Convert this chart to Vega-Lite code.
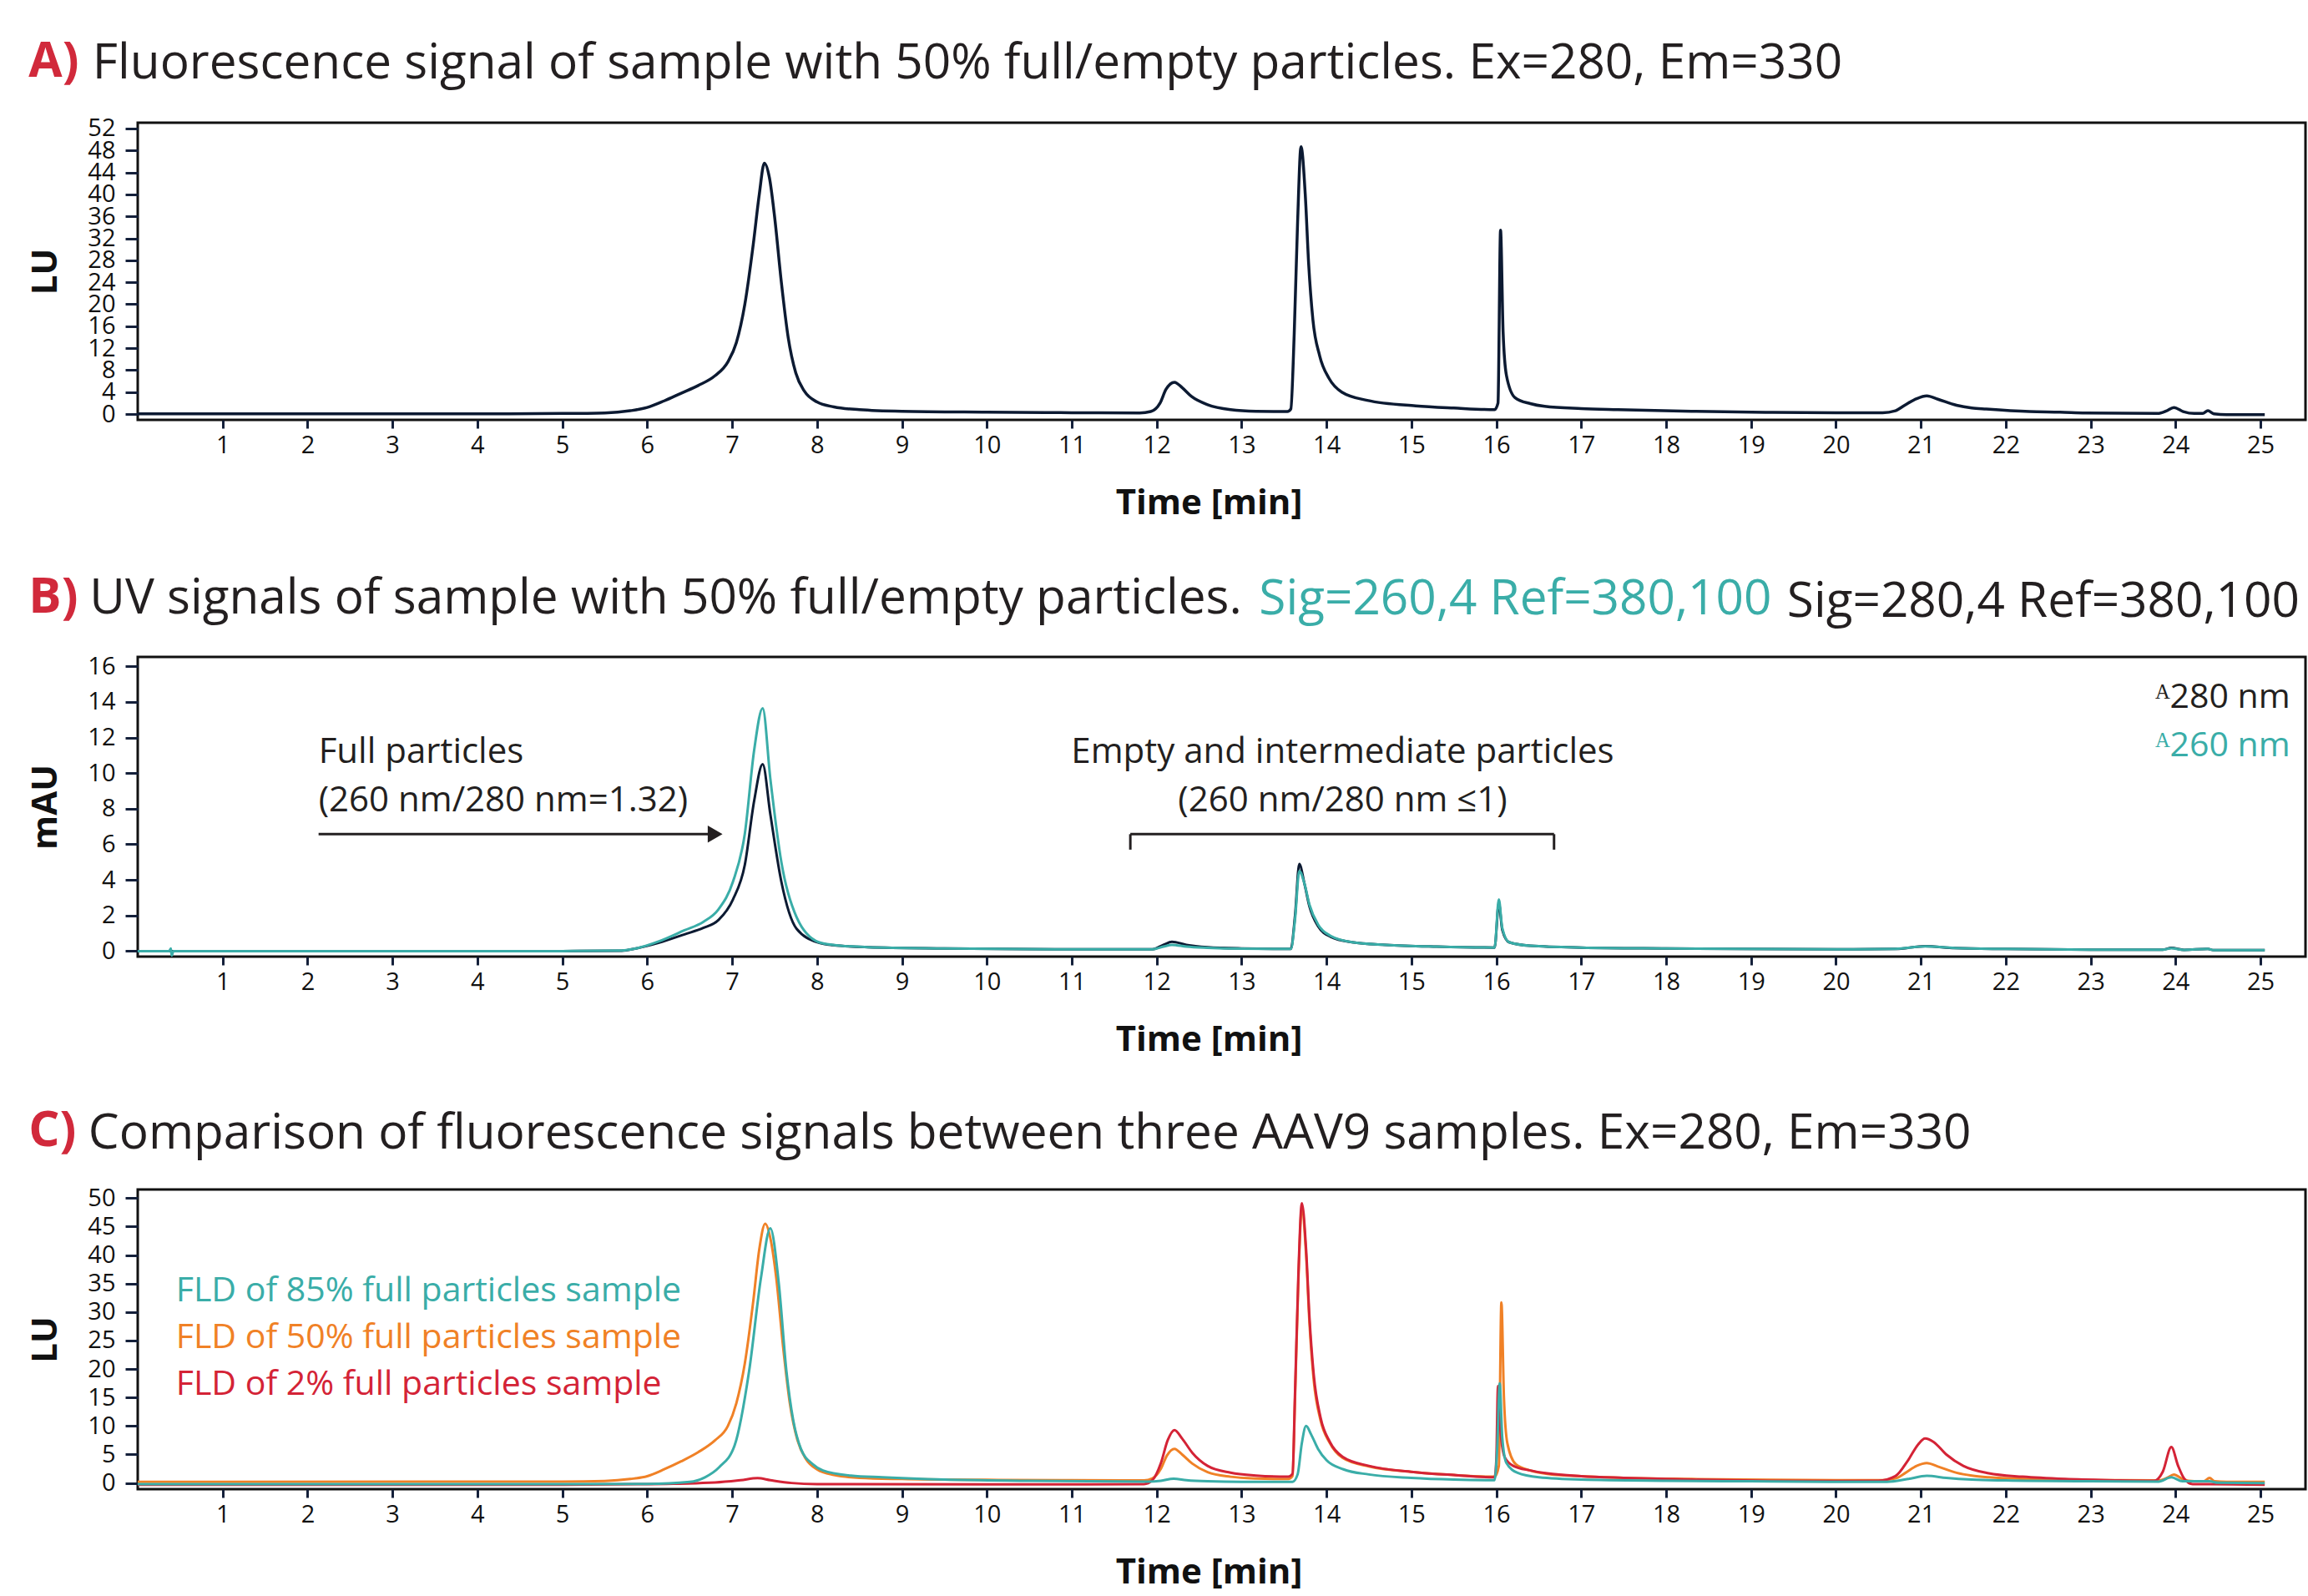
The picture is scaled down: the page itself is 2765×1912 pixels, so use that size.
{
  "$schema": "https://vega.github.io/schema/vega-lite/v6.json",
  "background": "white",
  "padding": {"left": 32, "top": 44, "right": 0, "bottom": 0},
  "spacing": 62,
  "config": {
    "font": "Open Sans",
    "view": {"stroke": "#111111", "strokeWidth": 3},
    "axis": {"grid": false, "domain": false, "tickColor": "#14203a", "tickWidth": 3, "labelColor": "#111111", "labelFontSize": 29, "titleFontSize": 42, "titleFontWeight": "bold", "titleColor": "#111111", "labelFlush": false, "labelOverlap": false},
    "axisX": {"tickSize": 10, "labelPadding": 6, "titlePadding": 34, "titleX": 1283},
    "axisY": {"tickSize": 15, "labelPadding": 12, "titlePadding": 28},
    "title": {"font": "Open Sans", "fontSize": 58.5, "fontWeight": "normal", "color": "#231f20", "anchor": "start", "frame": "bounds"}
  },
  "datasets": {
    "A": [
      {"t":0,"v":0.05},{"t":2,"v":0.05},{"t":4,"v":0.05},{"t":5,"v":0.1},{"t":5.5,"v":0.2},{"t":5.8,"v":0.6},{"t":6.0,"v":1.2},{"t":6.2,"v":2.4},{"t":6.4,"v":3.8},{"t":6.6,"v":5.2},{"t":6.8,"v":7.0},{"t":6.95,"v":9.5},{"t":7.05,"v":13},{"t":7.15,"v":20},{"t":7.25,"v":31},{"t":7.32,"v":40},{"t":7.38,"v":45.7},{"t":7.44,"v":43},{"t":7.5,"v":36},{"t":7.58,"v":24},{"t":7.66,"v":14},{"t":7.75,"v":7.5},{"t":7.85,"v":4.2},{"t":8.0,"v":2.2},{"t":8.2,"v":1.3},{"t":8.5,"v":0.8},{"t":9.0,"v":0.5},{"t":10,"v":0.35},{"t":11,"v":0.25},{"t":11.8,"v":0.2},{"t":11.93,"v":0.45},{"t":12.04,"v":2.0},{"t":12.11,"v":4.5},{"t":12.21,"v":5.8},{"t":12.3,"v":4.8},{"t":12.41,"v":3.2},{"t":12.6,"v":1.7},{"t":12.87,"v":0.8},{"t":13.17,"v":0.5},{"t":13.54,"v":0.45},{"t":13.58,"v":0.9},{"t":13.62,"v":14.6},{"t":13.66,"v":35},{"t":13.7,"v":48.7},{"t":13.75,"v":40},{"t":13.79,"v":27.4},{"t":13.84,"v":17.2},{"t":13.92,"v":10.6},{"t":14.03,"v":6.5},{"t":14.18,"v":4.0},{"t":14.48,"v":2.5},{"t":15.05,"v":1.5},{"t":15.5,"v":1.1},{"t":15.98,"v":0.8},{"t":16.02,"v":2},{"t":16.05,"v":33.5},{"t":16.08,"v":15},{"t":16.12,"v":7},{"t":16.22,"v":3.0},{"t":16.4,"v":1.9},{"t":16.57,"v":1.4},{"t":17.0,"v":1.0},{"t":17.43,"v":0.8},{"t":18.3,"v":0.5},{"t":19.17,"v":0.3},{"t":20.0,"v":0.25},{"t":20.55,"v":0.25},{"t":20.7,"v":0.6},{"t":20.81,"v":1.6},{"t":20.95,"v":2.8},{"t":21.07,"v":3.3},{"t":21.2,"v":2.7},{"t":21.42,"v":1.6},{"t":21.6,"v":1.1},{"t":21.77,"v":0.9},{"t":22.28,"v":0.45},{"t":22.64,"v":0.35},{"t":22.94,"v":0.2},{"t":23.79,"v":0.1},{"t":23.89,"v":0.55},{"t":23.98,"v":1.2},{"t":24.09,"v":0.45},{"t":24.22,"v":0.1},{"t":24.32,"v":0.1},{"t":24.38,"v":0.6},{"t":24.45,"v":0.05},{"t":24.6,"v":-0.1},{"t":25.05,"v":-0.1}
    ],
    "B280": [
      {"t":0,"v":0},{"t":2,"v":0},{"t":5,"v":0},{"t":5.7,"v":0.02},{"t":5.87,"v":0.15},{"t":6.14,"v":0.47},{"t":6.44,"v":0.94},{"t":6.66,"v":1.3},{"t":6.84,"v":1.75},{"t":7.01,"v":2.9},{"t":7.15,"v":4.85},{"t":7.26,"v":8.45},{"t":7.36,"v":10.5},{"t":7.45,"v":7.7},{"t":7.58,"v":3.9},{"t":7.76,"v":1.25},{"t":8.02,"v":0.47},{"t":8.19,"v":0.33},{"t":8.6,"v":0.22},{"t":9.5,"v":0.15},{"t":11,"v":0.1},{"t":11.95,"v":0.1},{"t":12.08,"v":0.35},{"t":12.18,"v":0.52},{"t":12.35,"v":0.35},{"t":12.6,"v":0.22},{"t":13.0,"v":0.15},{"t":13.58,"v":0.12},{"t":13.63,"v":2.0},{"t":13.68,"v":4.9},{"t":13.74,"v":3.8},{"t":13.8,"v":2.5},{"t":13.9,"v":1.4},{"t":14.05,"v":0.8},{"t":14.3,"v":0.5},{"t":14.7,"v":0.35},{"t":15.3,"v":0.25},{"t":15.98,"v":0.2},{"t":16.03,"v":2.7},{"t":16.07,"v":1.2},{"t":16.15,"v":0.5},{"t":16.4,"v":0.3},{"t":17,"v":0.2},{"t":18,"v":0.15},{"t":20,"v":0.1},{"t":20.7,"v":0.12},{"t":21.05,"v":0.28},{"t":21.4,"v":0.17},{"t":22,"v":0.12},{"t":23,"v":0.08},{"t":23.85,"v":0.08},{"t":23.95,"v":0.18},{"t":24.1,"v":0.07},{"t":24.38,"v":0.12},{"t":24.45,"v":0.05},{"t":25.05,"v":0.05}
    ],
    "B260": [
      {"t":0,"v":0},{"t":0.37,"v":0},{"t":0.39,"v":0.15},{"t":0.4,"v":-0.25},{"t":0.42,"v":0},{"t":2,"v":0},{"t":5,"v":0},{"t":5.7,"v":0.03},{"t":5.87,"v":0.15},{"t":6.14,"v":0.55},{"t":6.44,"v":1.17},{"t":6.66,"v":1.64},{"t":6.84,"v":2.35},{"t":7.01,"v":3.9},{"t":7.15,"v":6.6},{"t":7.26,"v":11.3},{"t":7.36,"v":13.65},{"t":7.45,"v":9.7},{"t":7.58,"v":5.0},{"t":7.76,"v":1.9},{"t":8.02,"v":0.5},{"t":8.19,"v":0.35},{"t":8.6,"v":0.22},{"t":9.5,"v":0.15},{"t":11,"v":0.1},{"t":11.95,"v":0.1},{"t":12.08,"v":0.25},{"t":12.18,"v":0.35},{"t":12.35,"v":0.25},{"t":12.6,"v":0.18},{"t":13.0,"v":0.13},{"t":13.58,"v":0.12},{"t":13.63,"v":1.8},{"t":13.68,"v":4.5},{"t":13.74,"v":3.8},{"t":13.8,"v":2.6},{"t":13.9,"v":1.5},{"t":14.05,"v":0.85},{"t":14.3,"v":0.5},{"t":14.7,"v":0.35},{"t":15.3,"v":0.25},{"t":15.98,"v":0.2},{"t":16.03,"v":2.9},{"t":16.07,"v":1.3},{"t":16.15,"v":0.5},{"t":16.4,"v":0.3},{"t":17,"v":0.2},{"t":18,"v":0.15},{"t":20,"v":0.1},{"t":20.7,"v":0.12},{"t":21.05,"v":0.26},{"t":21.4,"v":0.17},{"t":22,"v":0.12},{"t":23,"v":0.08},{"t":23.85,"v":0.08},{"t":23.95,"v":0.16},{"t":24.1,"v":0.07},{"t":24.38,"v":0.12},{"t":24.45,"v":0.05},{"t":25.05,"v":0.05}
    ],
    "Corange": [
      {"t":0,"v":0.2},{"t":5,"v":0.25},{"t":5.5,"v":0.35},{"t":5.8,"v":0.7},{"t":6.0,"v":1.2},{"t":6.2,"v":2.4},{"t":6.4,"v":3.8},{"t":6.6,"v":5.4},{"t":6.8,"v":7.5},{"t":6.95,"v":10},{"t":7.05,"v":14},{"t":7.15,"v":21},{"t":7.25,"v":32},{"t":7.32,"v":41},{"t":7.39,"v":45.5},{"t":7.45,"v":43},{"t":7.52,"v":36},{"t":7.6,"v":24},{"t":7.68,"v":14},{"t":7.77,"v":7.5},{"t":7.87,"v":4.2},{"t":8.0,"v":2.4},{"t":8.2,"v":1.4},{"t":8.5,"v":0.9},{"t":9.0,"v":0.7},{"t":10,"v":0.55},{"t":11,"v":0.5},{"t":11.85,"v":0.45},{"t":11.95,"v":0.8},{"t":12.05,"v":2.5},{"t":12.12,"v":4.8},{"t":12.21,"v":6.0},{"t":12.3,"v":5.0},{"t":12.42,"v":3.4},{"t":12.6,"v":1.9},{"t":12.87,"v":1.1},{"t":13.17,"v":0.8},{"t":13.55,"v":0.7},{"t":13.6,"v":1.2},{"t":13.63,"v":15},{"t":13.67,"v":36},{"t":13.71,"v":48.2},{"t":13.76,"v":40},{"t":13.8,"v":28},{"t":13.85,"v":18},{"t":13.93,"v":11},{"t":14.04,"v":7},{"t":14.19,"v":4.4},{"t":14.5,"v":2.9},{"t":15.05,"v":1.9},{"t":15.5,"v":1.4},{"t":15.98,"v":1.1},{"t":16.03,"v":3},{"t":16.06,"v":31.7},{"t":16.09,"v":15},{"t":16.13,"v":7},{"t":16.23,"v":3.3},{"t":16.4,"v":2.2},{"t":16.6,"v":1.6},{"t":17.0,"v":1.2},{"t":17.5,"v":0.9},{"t":18.3,"v":0.7},{"t":19.2,"v":0.55},{"t":20.0,"v":0.5},{"t":20.55,"v":0.5},{"t":20.7,"v":0.8},{"t":20.82,"v":1.8},{"t":20.95,"v":3.0},{"t":21.07,"v":3.5},{"t":21.2,"v":2.9},{"t":21.42,"v":1.8},{"t":21.6,"v":1.3},{"t":21.8,"v":1.0},{"t":22.3,"v":0.7},{"t":22.7,"v":0.55},{"t":23.0,"v":0.5},{"t":23.8,"v":0.45},{"t":23.9,"v":0.9},{"t":23.98,"v":1.5},{"t":24.08,"v":0.7},{"t":24.22,"v":0.3},{"t":24.33,"v":0.3},{"t":24.4,"v":0.9},{"t":24.46,"v":0.3},{"t":24.6,"v":0.2},{"t":25.05,"v":0.2}
    ],
    "Cred": [
      {"t":0,"v":-0.3},{"t":5.0,"v":-0.3},{"t":6.0,"v":-0.2},{"t":6.8,"v":0.1},{"t":7.1,"v":0.5},{"t":7.3,"v":0.85},{"t":7.45,"v":0.5},{"t":7.7,"v":0.0},{"t":8.0,"v":-0.2},{"t":10,"v":-0.25},{"t":11.85,"v":-0.2},{"t":11.95,"v":0.5},{"t":12.05,"v":3.5},{"t":12.13,"v":7.5},{"t":12.21,"v":9.3},{"t":12.3,"v":7.8},{"t":12.42,"v":5.3},{"t":12.6,"v":3.0},{"t":12.87,"v":1.8},{"t":13.17,"v":1.3},{"t":13.55,"v":1.1},{"t":13.6,"v":1.6},{"t":13.63,"v":16},{"t":13.67,"v":37},{"t":13.71,"v":49.1},{"t":13.76,"v":41},{"t":13.8,"v":29},{"t":13.85,"v":19},{"t":13.93,"v":11.5},{"t":14.04,"v":7.2},{"t":14.19,"v":4.6},{"t":14.5,"v":3.0},{"t":15.05,"v":1.9},{"t":15.5,"v":1.4},{"t":15.98,"v":1.0},{"t":16.0,"v":4},{"t":16.02,"v":17},{"t":16.05,"v":9},{"t":16.1,"v":4.5},{"t":16.2,"v":3.0},{"t":16.4,"v":2.2},{"t":16.6,"v":1.7},{"t":17.0,"v":1.2},{"t":17.5,"v":0.9},{"t":18.3,"v":0.6},{"t":19.2,"v":0.4},{"t":20.0,"v":0.35},{"t":20.5,"v":0.4},{"t":20.7,"v":1.2},{"t":20.85,"v":4.0},{"t":20.97,"v":6.8},{"t":21.05,"v":7.8},{"t":21.15,"v":7.2},{"t":21.3,"v":5.0},{"t":21.5,"v":3.0},{"t":21.8,"v":1.7},{"t":22.2,"v":1.1},{"t":22.7,"v":0.7},{"t":23.2,"v":0.5},{"t":23.75,"v":0.4},{"t":23.85,"v":2.0},{"t":23.95,"v":6.3},{"t":24.03,"v":3.0},{"t":24.1,"v":0.8},{"t":24.2,"v":-0.2},{"t":24.4,"v":-0.2},{"t":25.05,"v":-0.3}
    ],
    "Cteal": [
      {"t":0,"v":-0.2},{"t":5,"v":-0.2},{"t":6.0,"v":-0.15},{"t":6.5,"v":0.2},{"t":6.68,"v":1.0},{"t":6.85,"v":2.8},{"t":7.03,"v":6.6},{"t":7.2,"v":19.6},{"t":7.34,"v":36},{"t":7.45,"v":44.7},{"t":7.55,"v":35},{"t":7.64,"v":19.6},{"t":7.72,"v":11},{"t":7.81,"v":6},{"t":7.95,"v":3.3},{"t":8.07,"v":2.2},{"t":8.4,"v":1.3},{"t":8.77,"v":1.0},{"t":9.5,"v":0.6},{"t":10.5,"v":0.4},{"t":11.9,"v":0.25},{"t":12.05,"v":0.4},{"t":12.2,"v":0.75},{"t":12.35,"v":0.5},{"t":12.6,"v":0.3},{"t":13.0,"v":0.2},{"t":13.6,"v":0.2},{"t":13.66,"v":1.5},{"t":13.71,"v":7},{"t":13.76,"v":10.0},{"t":13.82,"v":8.5},{"t":13.9,"v":6},{"t":14.0,"v":4.0},{"t":14.2,"v":2.4},{"t":14.5,"v":1.5},{"t":15.0,"v":0.9},{"t":15.5,"v":0.6},{"t":15.98,"v":0.5},{"t":16.01,"v":6},{"t":16.04,"v":17.5},{"t":16.07,"v":8},{"t":16.12,"v":3.5},{"t":16.25,"v":1.8},{"t":16.5,"v":1.0},{"t":17.0,"v":0.6},{"t":18.0,"v":0.4},{"t":19.0,"v":0.3},{"t":20.0,"v":0.2},{"t":20.6,"v":0.2},{"t":20.85,"v":0.7},{"t":21.07,"v":1.25},{"t":21.3,"v":0.9},{"t":21.6,"v":0.6},{"t":22.0,"v":0.45},{"t":23.0,"v":0.3},{"t":23.8,"v":0.25},{"t":23.95,"v":1.0},{"t":24.08,"v":0.3},{"t":24.4,"v":0.3},{"t":24.5,"v":0.05},{"t":25.05,"v":0.0}
    ],
    "Btext": [
      {"t":2.13,"v":11.2,"label":"Full particles"},
      {"t":2.13,"v":8.45,"label":"(260 nm/280 nm=1.32)"}
    ],
    "Btext2": [
      {"t":14.19,"v":11.2,"label":"Empty and intermediate particles"},
      {"t":14.19,"v":8.45,"label":"(260 nm/280 nm ≤1)"}
    ],
    "Barrow": [{"t":2.13,"t2":6.75,"v":6.57}],
    "Bhead": [{"t":6.8,"v":6.57}],
    "Bbracket": [
      {"t":11.69,"t2":16.68,"v":6.57,"v2":6.57},
      {"t":11.69,"t2":11.69,"v":6.57,"v2":5.7},
      {"t":16.68,"t2":16.68,"v":6.57,"v2":5.7}
    ],
    "Bleg": [
      {"t":25.35,"v":14.23,"label":"ᴬ280 nm","s":"280 nm"},
      {"t":25.35,"v":11.5,"label":"ᴬ260 nm","s":"260 nm"}
    ],
    "Cleg": [
      {"t":0.45,"v":33.6,"label":"FLD of 85% full particles sample","s":"85%"},
      {"t":0.45,"v":25.4,"label":"FLD of 50% full particles sample","s":"50%"},
      {"t":0.45,"v":17.2,"label":"FLD of 2% full particles sample","s":"2%"}
    ]
  },
  "vconcat": [
    {
      "title": {"text": "A)", "color": "#d1293b", "fontWeight": "bold", "dx": 2, "offset": -58.5},
      "vconcat": [
        {
          "title": {"text": "Fluorescence signal of sample with 50% full/empty particles. Ex=280, Em=330", "dx": 77, "offset": 33},
          "width": 2597, "height": 356,
          "encoding": {
            "x": {"field": "t", "type": "quantitative", "scale": {"domain": [0, 25.53], "nice": false, "zero": false}, "axis": {"values": [1,2,3,4,5,6,7,8,9,10,11,12,13,14,15,16,17,18,19,20,21,22,23,24,25], "title": "Time [min]"}},
            "y": {"field": "v", "type": "quantitative", "scale": {"domain": [-1.06, 53.06], "nice": false, "zero": false}, "axis": {"values": [0,4,8,12,16,20,24,28,32,36,40,44,48,52], "title": "LU"}}
          },
          "layer": [
            {"data": {"name": "A"}, "mark": {"type": "line", "color": "#0c1a32", "strokeWidth": 3.5, "interpolate": "monotone"}}
          ]
        }
      ]
    },
    {
      "spacing": 58,
      "vconcat": [
        {
          "title": {"text": "B)", "color": "#d1293b", "fontWeight": "bold", "dx": 2, "offset": -58.5},
          "vconcat": [
            {
              "title": {"text": "UV signals of sample with 50% full/empty particles.", "dx": 75, "offset": -58.5},
              "vconcat": [
                {
                  "title": {"text": "Sig=260,4 Ref=380,100", "dx": 1476, "color": "#3aada8", "offset": -58.5},
                  "vconcat": [
                    {
                      "title": {"text": "Sig=280,4 Ref=380,100", "dx": 2107, "offset": 33},
                      "width": 2597, "height": 359,
                      "encoding": {
                        "x": {"field": "t", "type": "quantitative", "scale": {"domain": [0, 25.53], "nice": false, "zero": false}, "axis": {"values": [1,2,3,4,5,6,7,8,9,10,11,12,13,14,15,16,17,18,19,20,21,22,23,24,25], "title": "Time [min]"}},
                        "y": {"field": "v", "type": "quantitative", "scale": {"domain": [-0.31, 16.53], "nice": false, "zero": false}, "axis": {"values": [0,2,4,6,8,10,12,14,16], "title": "mAU"}}
                      },
                      "layer": [
                        {"data": {"name": "B280"}, "mark": {"type": "line", "color": "#0c1a32", "strokeWidth": 3, "interpolate": "monotone"}},
                        {"data": {"name": "B260"}, "mark": {"type": "line", "color": "#3aada8", "strokeWidth": 3, "interpolate": "monotone"}},
                        {"data": {"name": "Btext"}, "mark": {"type": "text", "align": "left", "baseline": "middle", "fontSize": 42, "color": "#231f20"}, "encoding": {"text": {"field": "label"}}},
                        {"data": {"name": "Btext2"}, "mark": {"type": "text", "align": "center", "baseline": "middle", "fontSize": 42, "color": "#231f20"}, "encoding": {"text": {"field": "label"}}},
                        {"data": {"name": "Barrow"}, "mark": {"type": "rule", "color": "#231f20", "strokeWidth": 3}, "encoding": {"x2": {"field": "t2"}}},
                        {"data": {"name": "Bhead"}, "mark": {"type": "point", "shape": "triangle-right", "filled": true, "color": "#231f20", "size": 420, "opacity": 1}},
                        {"data": {"name": "Bbracket"}, "mark": {"type": "rule", "color": "#231f20", "strokeWidth": 3}, "encoding": {"x2": {"field": "t2"}, "y2": {"field": "v2"}}},
                        {"data": {"name": "Bleg"}, "transform": [{"filter": "datum.s === '280 nm'"}], "mark": {"type": "text", "align": "right", "baseline": "middle", "fontSize": 41, "color": "#231f20"}, "encoding": {"text": {"field": "label"}}},
                        {"data": {"name": "Bleg"}, "transform": [{"filter": "datum.s === '260 nm'"}], "mark": {"type": "text", "align": "right", "baseline": "middle", "fontSize": 41, "color": "#3aada8"}, "encoding": {"text": {"field": "label"}}}
                      ]
                    }
                  ]
                }
              ]
            }
          ]
        },
        {
          "title": {"text": "C)", "color": "#d1293b", "fontWeight": "bold", "dx": 2, "offset": -58.5},
          "vconcat": [
            {
              "title": {"text": "Comparison of fluorescence signals between three AAV9 samples. Ex=280, Em=330", "dx": 72, "offset": 33},
              "width": 2597, "height": 359,
              "encoding": {
                "x": {"field": "t", "type": "quantitative", "scale": {"domain": [0, 25.53], "nice": false, "zero": false}, "axis": {"values": [1,2,3,4,5,6,7,8,9,10,11,12,13,14,15,16,17,18,19,20,21,22,23,24,25], "title": "Time [min]"}},
                "y": {"field": "v", "type": "quantitative", "scale": {"domain": [-1.08, 51.5], "nice": false, "zero": false}, "axis": {"values": [0,5,10,15,20,25,30,35,40,45,50], "title": "LU"}}
              },
              "layer": [
                {"data": {"name": "Corange"}, "mark": {"type": "line", "color": "#f08126", "strokeWidth": 3, "interpolate": "monotone"}},
                {"data": {"name": "Cred"}, "mark": {"type": "line", "color": "#d42336", "strokeWidth": 3, "interpolate": "monotone"}},
                {"data": {"name": "Cteal"}, "mark": {"type": "line", "color": "#3aada8", "strokeWidth": 3, "interpolate": "monotone"}},
                {"data": {"name": "Cleg"}, "transform": [{"filter": "datum.s === '85%'"}], "mark": {"type": "text", "align": "left", "baseline": "middle", "fontSize": 41, "color": "#3aada8"}, "encoding": {"text": {"field": "label"}}},
                {"data": {"name": "Cleg"}, "transform": [{"filter": "datum.s === '50%'"}], "mark": {"type": "text", "align": "left", "baseline": "middle", "fontSize": 41, "color": "#f08126"}, "encoding": {"text": {"field": "label"}}},
                {"data": {"name": "Cleg"}, "transform": [{"filter": "datum.s === '2%'"}], "mark": {"type": "text", "align": "left", "baseline": "middle", "fontSize": 41, "color": "#d42336"}, "encoding": {"text": {"field": "label"}}}
              ]
            }
          ]
        }
      ]
    }
  ]
}
